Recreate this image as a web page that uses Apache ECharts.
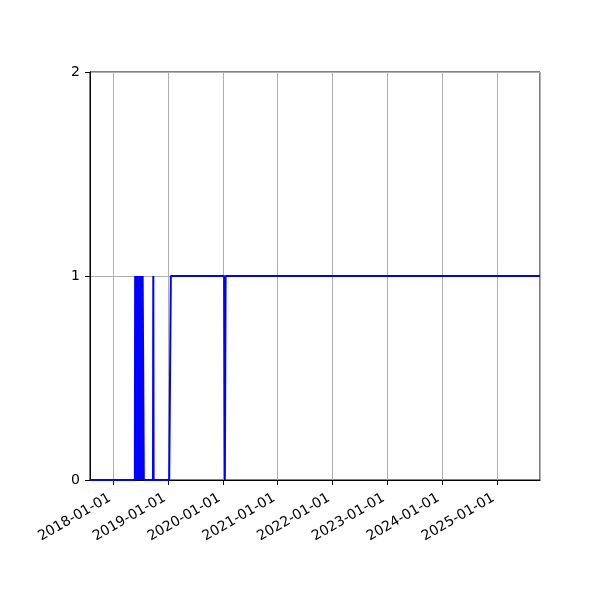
<!DOCTYPE html>
<html>
<head>
<meta charset="utf-8">
<script src="https://cdn.jsdelivr.net/npm/echarts@6/dist/echarts.min.js"></script>
<style>html,body{margin:0;padding:0;background:#fff}#c{width:600px;height:600px}</style>
</head>
<body>
<div id="c"></div>
<script>
var dates = ['2017-07-30','2018-05-25','2018-05-27','2018-06-02','2018-06-05','2018-06-12','2018-06-16','2018-06-22','2018-06-26','2018-07-02','2018-07-06','2018-07-12','2018-07-16','2018-07-24','2018-09-23','2018-09-25','2018-09-27','2019-01-09','2019-01-20','2020-01-10','2020-01-15','2020-01-20','2025-10-16'];
var values = [0,0,1,0,1,0,1,0,1,0,1,0,1,0,0,1,0,0,1,1,0,1,1];
var yTicks = [0,1,2];
var xMin = '2017-07-30';
var xMax = '2025-10-16';

var seriesData = dates.map(function(d,i){ return [d, values[i]]; });
var chart = echarts.init(document.getElementById('c'), null, {renderer:'canvas'});
var YEAR = 365*24*3600*1000;
chart.setOption({
  animation: false,
  grid: {left:90, right:60, top:72, bottom:120, show:true, borderColor:'#000', borderWidth:1, backgroundColor:'transparent'},
  xAxis: {
    type:'time', min:xMin, max:xMax,
    minInterval: YEAR, maxInterval: YEAR,
    axisLine:{show:true, lineStyle:{color:'#000', width:1}},
    axisTick:{show:true, inside:false, length:5, lineStyle:{color:'#000'}},
    splitLine:{show:true, lineStyle:{color:'#b0b0b0', width:1}},
    axisLabel:{rotate:30, margin:15, padding:[0,4,0,0], fontSize:14, color:'#000', fontFamily:'DejaVu Sans', showMinLabel:false, showMaxLabel:false,
      formatter: function(v){ return echarts.time.format(v, '{yyyy}-{MM}-{dd}', false); }}
  },
  yAxis: {
    type:'value', min:yTicks[0], max:yTicks[yTicks.length-1], interval:1,
    axisLine:{show:true, lineStyle:{color:'#000', width:1}},
    axisTick:{show:true, inside:false, length:5, lineStyle:{color:'#000'}},
    splitLine:{show:true, lineStyle:{color:'#b0b0b0', width:1}},
    axisLabel:{margin:10, fontSize:14, color:'#000', fontFamily:'DejaVu Sans'}
  },
  series: [{
    type:'line', data:seriesData, showSymbol:false, symbol:'none',
    lineStyle:{color:'#0000ff', width:2}, clip:true
  }]
});
</script>
</body>
</html>
